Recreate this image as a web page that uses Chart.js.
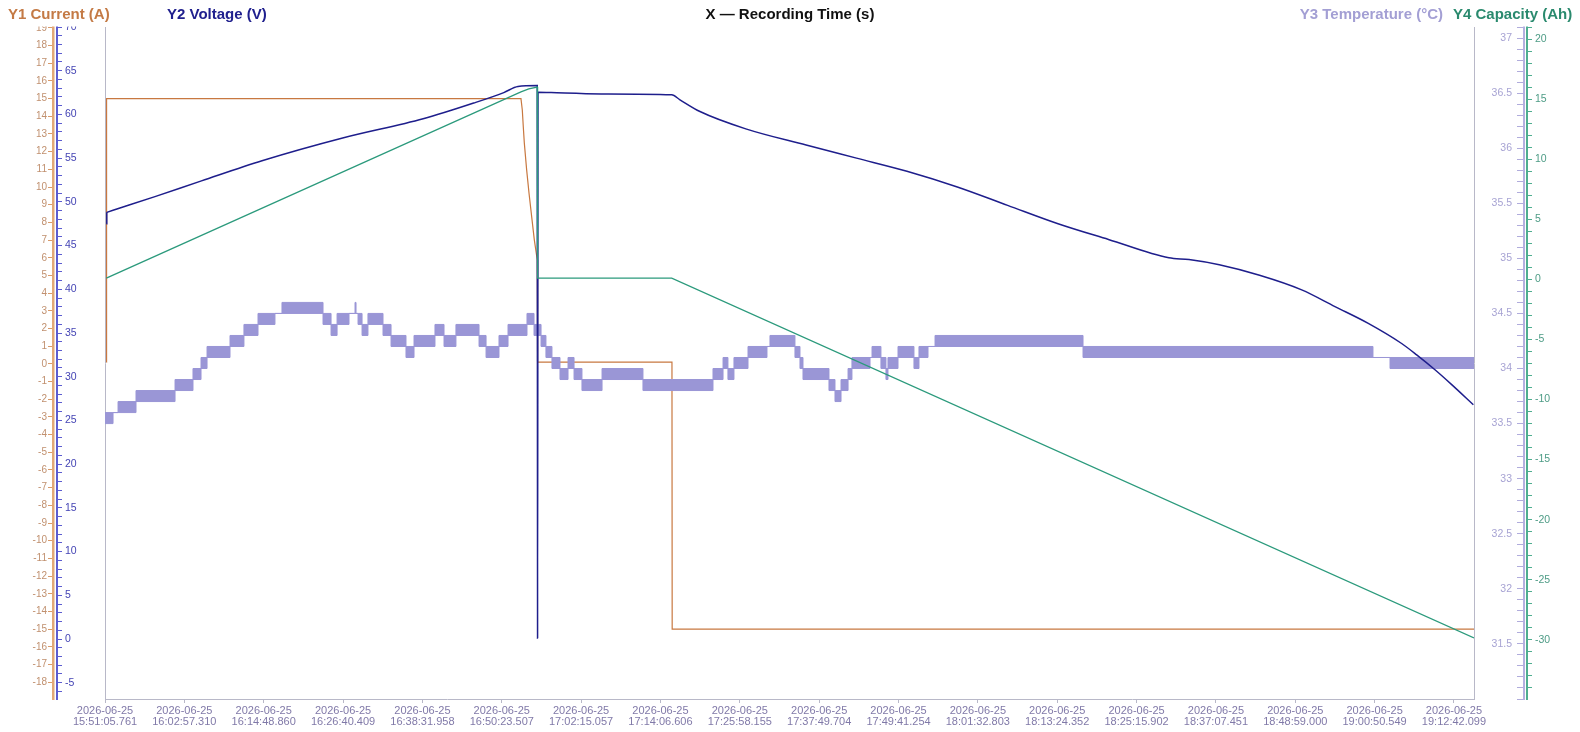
<!DOCTYPE html>
<html><head><meta charset="utf-8">
<script src="https://cdn.jsdelivr.net/npm/chart.js@4.4.1/dist/chart.umd.min.js"></script>
<style>
html,body{margin:0;padding:0;background:#fff;}
#wrap{position:relative;width:1580px;height:732px;overflow:hidden;background:#fff;}
#c{position:absolute;left:0;top:0;}
.t{position:absolute;top:6px;font-family:"Liberation Sans",Arial,sans-serif;font-weight:bold;font-size:15px;line-height:15px;white-space:nowrap;}
</style></head><body>
<div id="wrap">
<canvas id="c" width="1580" height="732"></canvas>
<div class="t" style="left:8px;color:#c47a45">Y1 Current (A)</div>
<div class="t" style="left:167px;color:#20208e">Y2 Voltage (V)</div>
<div class="t" style="left:0;width:1580px;text-align:center;color:#111">X — Recording Time (s)</div>
<div class="t" style="right:137px;color:#a39fd4">Y3 Temperature (°C)</div>
<div class="t" style="left:1453px;color:#2a8a6e">Y4 Capacity (Ah)</div>
</div>
<script>
// ---- X tick labels (recording time) ----
const xTickLabels = [
 "2026-06-25 15:51:05.761","2026-06-25 16:02:57.310","2026-06-25 16:14:48.860","2026-06-25 16:26:40.409",
 "2026-06-25 16:38:31.958","2026-06-25 16:50:23.507","2026-06-25 17:02:15.057","2026-06-25 17:14:06.606",
 "2026-06-25 17:25:58.155","2026-06-25 17:37:49.704","2026-06-25 17:49:41.254","2026-06-25 18:01:32.803",
 "2026-06-25 18:13:24.352","2026-06-25 18:25:15.902","2026-06-25 18:37:07.451","2026-06-25 18:48:59.000",
 "2026-06-25 19:00:50.549","2026-06-25 19:12:42.099"];
const xMaxSeconds = 12276;

// ---- Y tick labels ----
const y1TickLabels = [-18,-17,-16,-15,-14,-13,-12,-11,-10,-9,-8,-7,-6,-5,-4,-3,-2,-1,0,1,2,3,4,5,6,7,8,9,10,11,12,13,14,15,16,17,18,19];
const y2TickLabels = [-5,0,5,10,15,20,25,30,35,40,45,50,55,60,65,70];
const y3TickLabels = [31.5,32,32.5,33,33.5,34,34.5,35,35.5,36,36.5,37];
const y4TickLabels = [-30,-25,-20,-15,-10,-5,0,5,10,15,20];

// ---- Series: Current (A) ----
const currentTime = [12, 14, 3730, 3742, 3751, 3760, 3781, 3802, 3826, 3850, 3876, 3879, 5084, 5086, 12276];
const currentVal  = [0.1, 15, 15, 14.36, 13.4, 12.5, 10.97, 9.66, 8.33, 7.0, 5.89, 0.1, 0.1, -15, -15];

// ---- Series: Voltage (V) ----
const voltTime = [12, 16, 100, 448, 865, 1408, 2131, 2853, 3306, 3576, 3703, 3876, 3879, 3883, 4000, 4450, 5082, 5156, 5335, 5746, 6287, 6739, 7191, 7643, 8094, 8546, 8998, 9540, 9720, 9992, 10353, 10731, 11029, 11328, 11627, 11762, 11926, 12076, 12270];
const voltVal  = [47.5, 48.8, 49.15, 50.6, 52.4, 54.7, 57.3, 59.5, 61.3, 62.5, 63.2, 63.3, 0.1, 62.55, 62.5, 62.35, 62.25, 61.67, 60.33, 58.35, 56.5, 55.0, 53.5, 51.7, 49.6, 47.5, 45.7, 43.6, 43.4, 42.8, 41.6, 39.93, 38.02, 36.1, 33.8, 32.5, 30.8, 29.1, 26.8];

// ---- Series: Temperature (°C), low/high envelope of the fluctuating reading ----
const tempTime = [0, 72, 117, 278, 628, 789, 861, 915, 1121, 1246, 1372, 1524, 1587, 1955, 2027, 2081, 2188, 2242, 2251, 2269, 2305, 2358, 2493, 2565, 2699, 2771, 2959, 3040, 3147, 3354, 3417, 3533, 3614, 3784, 3847, 3910, 3954, 4008, 4080, 4152, 4206, 4277, 4457, 4824, 5452, 5542, 5586, 5640, 5766, 5936, 5963, 6187, 6232, 6259, 6492, 6546, 6600, 6663, 6698, 6860, 6878, 6958, 7003, 7021, 7111, 7254, 7299, 7380, 7443, 8770, 11370, 11523, 12276];
const tempLow  = [33.5, 33.6, 33.6, 33.7, 33.8, 33.9, 34.0, 34.1, 34.2, 34.3, 34.4, 34.5, 34.5, 34.4, 34.3, 34.4, 34.5, 34.5, 34.5, 34.4, 34.3, 34.4, 34.3, 34.2, 34.1, 34.2, 34.3, 34.2, 34.3, 34.2, 34.1, 34.2, 34.3, 34.4, 34.3, 34.2, 34.1, 34.0, 33.9, 34.0, 33.9, 33.8, 33.9, 33.8, 33.9, 34.0, 33.9, 34.0, 34.1, 34.2, 34.2, 34.1, 34.0, 33.9, 33.8, 33.7, 33.8, 33.9, 34.0, 34.1, 34.1, 34.0, 33.9, 34.0, 34.1, 34.0, 34.1, 34.2, 34.2, 34.1, 34.1, 34.0, 34.0];
const tempHigh = [33.6, 33.6, 33.7, 33.8, 33.9, 34.0, 34.1, 34.2, 34.3, 34.4, 34.5, 34.5, 34.6, 34.5, 34.4, 34.5, 34.5, 34.6, 34.5, 34.5, 34.4, 34.5, 34.4, 34.3, 34.2, 34.3, 34.4, 34.3, 34.4, 34.3, 34.2, 34.3, 34.4, 34.5, 34.4, 34.3, 34.2, 34.1, 34.0, 34.1, 34.0, 33.9, 34.0, 33.9, 34.0, 34.1, 34.0, 34.1, 34.2, 34.2, 34.3, 34.2, 34.1, 34.0, 33.9, 33.8, 33.9, 34.0, 34.1, 34.1, 34.2, 34.1, 34.0, 34.1, 34.2, 34.1, 34.2, 34.2, 34.3, 34.2, 34.1, 34.1, 34.1];

// ---- Series: Capacity (Ah) ----
const capTime = [12, 3730, 3800, 3876, 3879, 5082, 12276];
const capVal  = [0.1, 15.6, 15.85, 16.0, 0.1, 0.1, -29.85];

// ---- build ----
function secs(s){ const p = s.split(' ')[1].split(':'); return (+p[0])*3600 + (+p[1])*60 + (+p[2]); }
const x0 = secs(xTickLabels[0]);
const xTickSeconds = xTickLabels.map(s => secs(s) - x0);
const pts = (t, v) => t.map((x, i) => ({x: x, y: v[i]}));
function rangeTicks(min, max, step, dec){
  const out = []; const f = Math.pow(10, dec);
  for (let v = Math.ceil(min/step - 1e-9)*step; v <= max + 1e-9; v += step) out.push({value: Math.round(v*f)/f});
  return out;
}
const near = (arr, v) => arr.some(a => Math.abs(a - v) < 1e-6);

Chart.defaults.font.family = '"Liberation Sans", Arial, sans-serif';

const clipTop = { id:'clipTop', afterDraw(chart){
  const {ctx, chartArea} = chart; ctx.save(); ctx.fillStyle = '#fff';
  ctx.fillRect(0, 0, chart.width, chartArea.top - 0.5); ctx.restore(); } };

const dummyAxis = (pos, w) => ({
  position: pos, weight: 1, display: true,
  afterFit: s => { s.width = w; },
  ticks: { display: false },
  grid: { display: true, drawOnChartArea: false, drawTicks: false, color: '#b8b8c8' },
  border: { display: true, color: '#b8b8c8', width: 1 }
});

// voltage: the instantaneous step at switch-on is drawn straight, the rest smoothly
const voltAll = pts(voltTime, voltVal);

new Chart(document.getElementById('c'), {
  type: 'line',
  data: { datasets: [
    { label:'Y4 Capacity (Ah)', data: pts(capTime, capVal), yAxisID:'y4', borderColor:'#2b9a7c', borderWidth:1.3, pointRadius:0, fill:false, order:0 },
    { label:'Y2 Voltage (V)', data: voltAll.slice(1), yAxisID:'y2', borderColor:'#1e1e8c', borderWidth:1.5, pointRadius:0, fill:false, order:1, cubicInterpolationMode:'monotone' },
    { label:'Y2 Voltage step', data: voltAll.slice(0, 2), yAxisID:'y2', borderColor:'#1e1e8c', borderWidth:1.5, pointRadius:0, fill:false, order:1 },
    { label:'Y3 Temperature low', data: pts(tempTime, tempLow), yAxisID:'y3', stepped:true, borderColor:'#9a96d6', borderWidth:1, pointRadius:0, fill:false, order:2 },
    { label:'Y3 Temperature (°C)', data: pts(tempTime, tempHigh), yAxisID:'y3', stepped:true, borderColor:'#9a96d6', backgroundColor:'#9a96d6', borderWidth:1, pointRadius:0, fill:3, order:3 },
    { label:'Y1 Current (A)', data: pts(currentTime, currentVal), yAxisID:'y1', borderColor:'#c87840', borderWidth:1.2, pointRadius:0, fill:false, order:4 }
  ]},
  options: {
    responsive:false, animation:false, devicePixelRatio:1,
    layout:{ padding:{ top:27, left:0, right:0, bottom:0 } },
    plugins:{ legend:{display:false}, tooltip:{enabled:false}, title:{display:false} },
    elements:{ line:{ tension:0 } },
    scales:{
      x:{ type:'linear', position:'bottom', min:0, max:xMaxSeconds,
          afterBuildTicks: a => { a.ticks = xTickSeconds.map(v => ({value:v})); },
          afterFit: s => { s.height = 33; },
          ticks:{ autoSkip:false, maxRotation:0, minRotation:0, padding:2, color:'#8079a8',
                  font:{ size:11, lineHeight:1 },
                  callback:(v, i) => xTickLabels[i].split(' ') },
          grid:{ drawOnChartArea:false, drawTicks:true, tickLength:4, color:'#b8b8c8' },
          border:{ color:'#b8b8c8', width:1 } },
      yL0: dummyAxis('left', 48),
      y2:{ type:'linear', position:'left', weight:2, min:-6.86, max:70,
           afterFit: s => { s.width = 4; },
           afterBuildTicks: a => { a.ticks = rangeTicks(-6.86, 70, 1, 0); },
           ticks:{ autoSkip:false, mirror:true, padding:8, color:'#4444b4', font:{size:10.5},
                   callback: v => near(y2TickLabels, v) ? String(v) : '' },
           grid:{ drawOnChartArea:false, drawTicks:true, tickLength:-5, color:'#5c5cd0' },
           border:{ color:'#5c5cd0', width:2 } },
      y1:{ type:'linear', position:'left', weight:3, min:-18.95, max:19.05,
           afterFit: s => { s.width = 53; },
           afterBuildTicks: a => { a.ticks = y1TickLabels.map(v => ({value:v})); },
           ticks:{ autoSkip:false, padding:1, color:'#c0906f', font:{size:10},
                   callback: v => String(v) },
           grid:{ drawOnChartArea:false, drawTicks:true, tickLength:5, color:'#d99a6a' },
           border:{ color:'#e2a877', width:2.5 } },
      yR0: dummyAxis('right', 50),
      y3:{ type:'linear', position:'right', weight:2, min:31.0, max:37.1,
           afterFit: s => { s.width = 3; },
           afterBuildTicks: a => { a.ticks = rangeTicks(31.0, 37.1, 0.1, 1); },
           ticks:{ autoSkip:false, mirror:true, padding:-12, color:'#a7a3d3', font:{size:10.5},
                   callback: v => near(y3TickLabels, v) ? String(v) : '' },
           grid:{ drawOnChartArea:false, drawTicks:true, tickLength:-7, color:'#b0acdc' },
           border:{ color:'#b4b0e0', width:2 } },
      y4:{ type:'linear', position:'right', weight:3, min:-34.93, max:21.0,
           afterFit: s => { s.width = 53; },
           afterBuildTicks: a => { a.ticks = rangeTicks(-34.93, 21.0, 1, 0); },
           ticks:{ autoSkip:false, padding:3, color:'#4e9c86', font:{size:10.5},
                   callback: v => near(y4TickLabels, v) ? String(v) : '' },
           grid:{ drawOnChartArea:false, drawTicks:true, tickLength:5, color:'#4fae90' },
           border:{ color:'#4fae90', width:2 } }
    }
  },
  plugins:[clipTop]
});
</script>
</body></html>
